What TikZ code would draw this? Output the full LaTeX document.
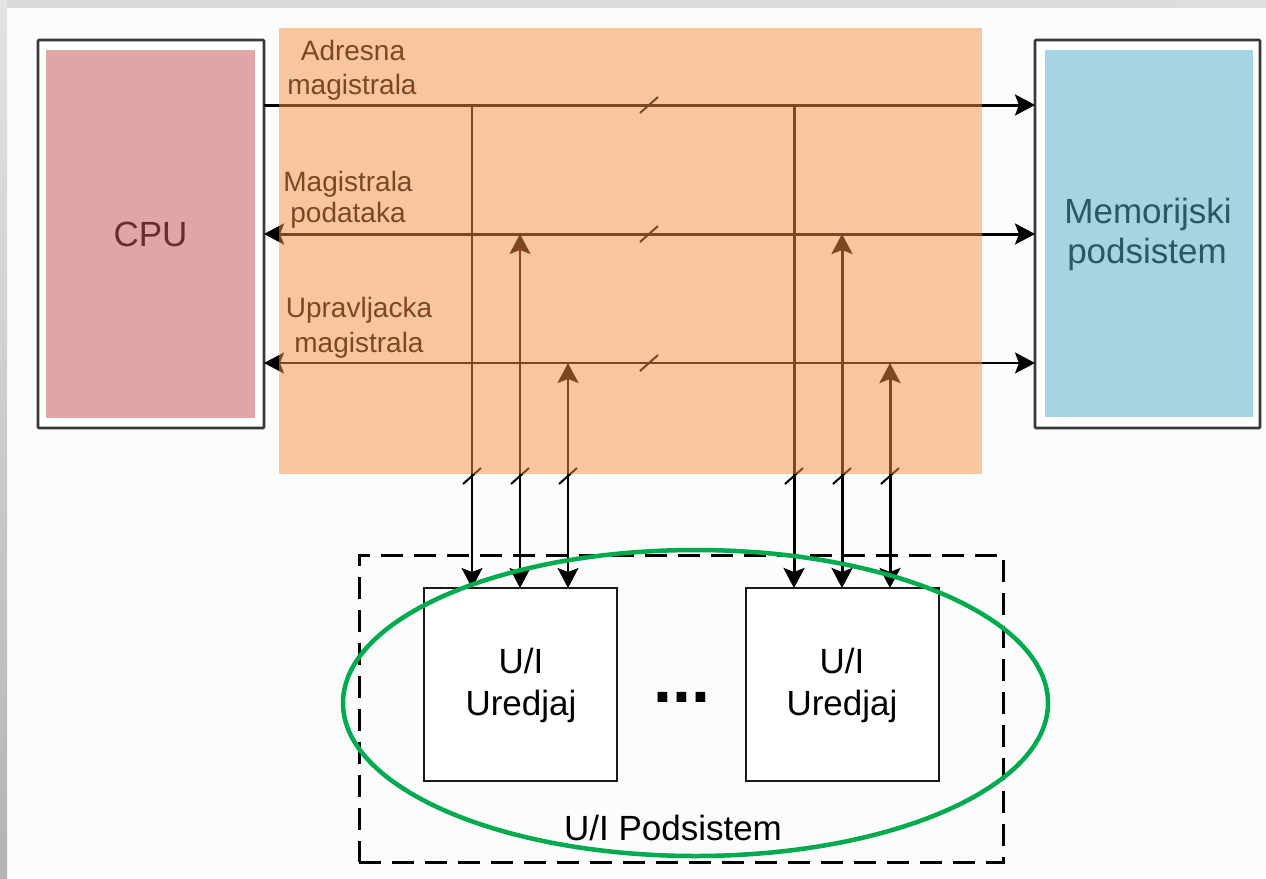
\documentclass[tikz,border=0pt]{standalone}
\usepackage{fontspec}
\setmainfont{Liberation Sans}
\usetikzlibrary{arrows.meta,shapes.geometric}

\definecolor{cpufill}{HTML}{DFA6A6}
\definecolor{memfill}{HTML}{A6D4E2}
\definecolor{cputext}{HTML}{6A2C2C}
\definecolor{memtext}{HTML}{2B5866}
\definecolor{busband}{HTML}{F39243}
\definecolor{frameedge}{HTML}{383838}
\definecolor{ringgreen}{HTML}{00AA4F}

% short mark across a bus line (bus width indicator), centred on (#1,#2)
\newcommand\busslash[2]{\draw[slashmark] ([shift={(-9,8)}]#1,#2) -- ([shift={(9,-8)}]#1,#2);}

\begin{document}
\begin{tikzpicture}[x=1pt,y=-1pt,
  >={Stealth[length=20pt,width=21pt,inset=4pt]},
  outerbox/.style={draw=frameedge,line width=2.6pt,fill=white,inner sep=0pt,outer sep=0pt,rounded corners=1pt},
  innerfill/.style={inner sep=0pt,outer sep=0pt},
  devbox/.style={draw=black!90,line width=2pt,fill=white,inner sep=0pt,outer sep=0pt,minimum width=193pt,minimum height=193pt},
  buslabel/.style={font=\fontsize{28}{33}\selectfont,anchor=base,inner sep=0pt},
  bigtext/.style={font=\fontsize{35}{40}\selectfont,anchor=base,inner sep=0pt},
  thickbus/.style={line width=3pt,black},
  thinbus/.style={line width=1.9pt,black},
  slashmark/.style={line width=2pt,black},
]
% page background and the grey edge strips
\useasboundingbox (0,0) rectangle (1266,878);
\fill[white!99!black] (0,0) rectangle (1266,878);
\shade[left color=gray!30,middle color=white,right color=gray!26] (0,0) rectangle (1266,7);
\shade[top color=gray!22,bottom color=gray!59] (0,0) rectangle (7,878);

% CPU and memory blocks
\node[outerbox,minimum width=226pt,minimum height=388pt] (cpu) at (151,234) {};
\node[innerfill,fill=cpufill,minimum width=209pt,minimum height=368pt] (cpuin) at (150.5,234) {};
\node[font=\fontsize{35}{40}\selectfont,text=cputext,inner sep=0pt] (cputxt) at (cpuin.center) {CPU};

\node[outerbox,minimum width=225pt,minimum height=388pt] (mem) at (1147.5,234) {};
\node[innerfill,fill=memfill,minimum width=208pt,minimum height=367pt] (memin) at (1149,233.5) {};
\node[bigtext,text=memtext] (memtxtA) at (1148,223) {Memorijski};
\node[bigtext,text=memtext] (memtxtB) at (1147,263) {podsistem};

% I/O devices
\node[devbox] (io1) at (520.5,684.5) {};
\node[devbox] (io2) at (842,684.5) {};
\node[bigtext] (io1a) at (521,673) {U/I};
\node[bigtext] (io1b) at (521,715) {Uredjaj};
\node[bigtext] (io2a) at (842,673) {U/I};
\node[bigtext] (io2b) at (842,715) {Uredjaj};
\node[font=\fontsize{68}{68}\selectfont\bfseries,anchor=base,inner sep=0pt] (dots) at (682,702) {...};

% bus levels and tap points
\coordinate (ya) at (0,105);
\coordinate (yd) at (0,234);
\coordinate (yc) at (0,363);
\coordinate (ta1) at (472,105);
\coordinate (td1) at (520,234);
\coordinate (tc1) at (568,363);
\coordinate (ta2) at (794,105);
\coordinate (td2) at (842,234);
\coordinate (tc2) at (890,363);

% system buses
\draw[thickbus,->] (cpu.east |- ya) -- (mem.west |- ya);
\draw[thickbus,<->] (cpu.east |- yd) -- (mem.west |- yd);
\draw[thinbus,<->] (cpu.east |- yc) -- (mem.west |- yc);

% taps from the buses to the I/O devices
\draw[thinbus,->] (ta1) -- (io1.north -| ta1);
\draw[thinbus,<->] (io1.north -| td1) -- (td1);
\draw[thinbus,<->] (io1.north -| tc1) -- (tc1);
\draw[thickbus,->] (ta2) -- (io2.north -| ta2);
\draw[thickbus,<->] (io2.north -| td2) -- (td2);
\draw[thickbus,<->] (io2.north -| tc2) -- (tc2);

% bus width marks
\busslash{649}{105}
\busslash{649}{234}
\busslash{649}{363}
\busslash{472}{476}
\busslash{520}{476}
\busslash{568}{476}
\busslash{794}{476}
\busslash{842}{476}
\busslash{890}{476}

% bus labels
\node[buslabel] (laba) at (353,60) {Adresna};
\node[buslabel] (labb) at (352,94) {magistrala};
\node[buslabel] (labc) at (348,191) {Magistrala};
\node[buslabel] (labd) at (348,222) {podataka};
\node[buslabel] (labe) at (359,317) {Upravljacka};
\node[buslabel] (labf) at (359,352) {magistrala};

% translucent band over the bus area
\fill[busband,opacity=0.5] (279,28) rectangle (982,474);

% I/O subsystem frame and highlight
\node[draw=black,line width=3pt,dash pattern=on 22pt off 11pt,minimum width=644pt,minimum height=307pt,inner sep=0pt] (iosub) at (681,708.5) {};
\node[bigtext] (iosubtxt) at (673,840) {U/I Podsistem};
\node[ellipse,draw=ringgreen,line width=4.5pt,minimum width=705pt,minimum height=306pt,inner sep=0pt] (ring) at (695.5,703) {};
\end{tikzpicture}
\end{document}
